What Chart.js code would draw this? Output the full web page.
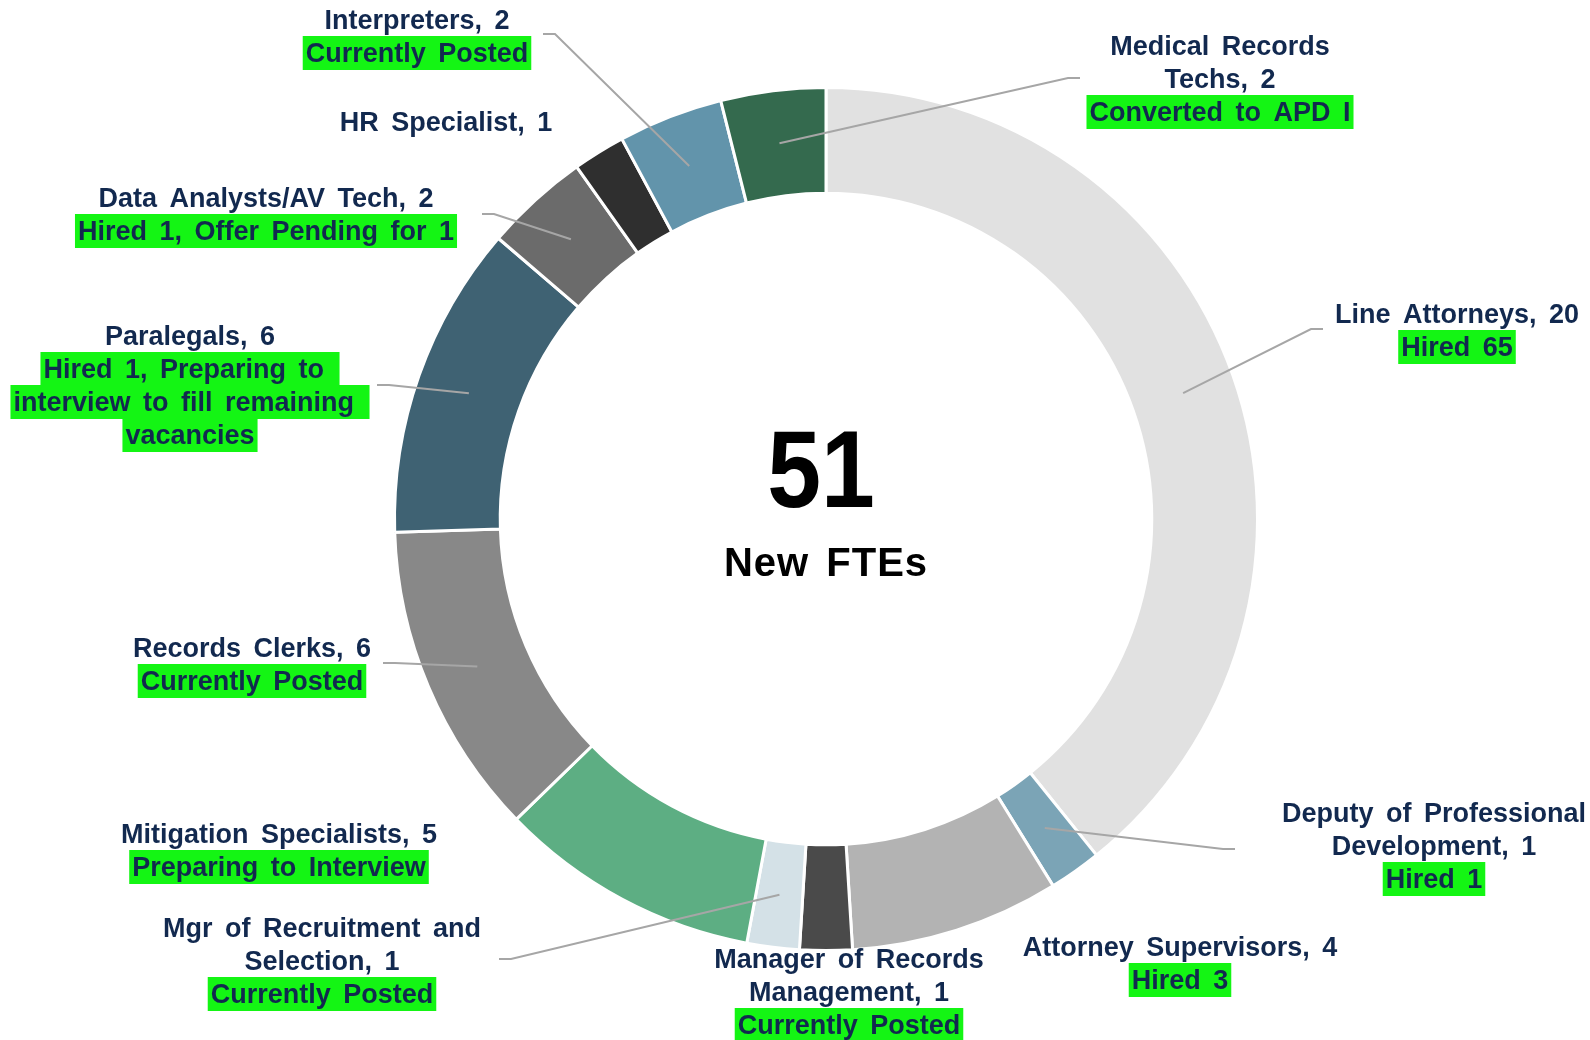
<!DOCTYPE html>
<html>
<head>
<meta charset="utf-8">
<title>New FTEs</title>
<script src="https://cdn.jsdelivr.net/npm/chart.js@4.4.1/dist/chart.umd.min.js"></script>
<style>
  body { margin: 0; background: #fff; }
  #myChart { display: block; }
</style>
</head>
<body>
<canvas id="myChart" width="1590" height="1040"></canvas>
<script>
// slices go clockwise from 12 o'clock
const roles = [
  ["Line Attorneys"],
  ["Deputy of Professional", "Development"],
  ["Attorney Supervisors"],
  ["Manager of Records", "Management"],
  ["Mgr of Recruitment and", "Selection"],
  ["Mitigation Specialists"],
  ["Records Clerks"],
  ["Paralegals"],
  ["Data Analysts/AV Tech"],
  ["HR Specialist"],
  ["Interpreters"],
  ["Medical Records", "Techs"],
];

const fteCounts = [20, 1, 4, 1, 1, 5, 6, 6, 2, 1, 2, 2];

const statusNotes = [
  ["Hired 65"],
  ["Hired 1"],
  ["Hired 3"],
  ["Currently Posted"],
  ["Currently Posted"],
  ["Preparing to Interview"],
  ["Currently Posted"],
  ["Hired 1, Preparing to ", "interview to fill remaining ", "vacancies"],
  ["Hired 1, Offer Pending for 1"],
  [],
  ["Currently Posted"],
  ["Converted to APD I"],
];

const sliceColors = [
  "#e1e1e1", "#7ba4b6", "#b3b3b3", "#4a4a4a", "#d4e1e7", "#5dae83",
  "#888888", "#3f6273", "#6b6b6b", "#2f2f2f", "#6294ab", "#346a4e",
];

// where each label sits (centre x, first baseline) and where its leader line ends
const labelLayout = [
  { x: 1457, y: 323, end: [1323, 329] },
  { x: 1434, y: 822, end: [1235, 849] },
  { x: 1180, y: 956 },
  { x: 849, y: 968 },
  { x: 322, y: 937, end: [499, 959] },
  { x: 279, y: 843 },
  { x: 252, y: 657, end: [383, 663] },
  { x: 190, y: 345, end: [377, 385] },
  { x: 266, y: 207, end: [482, 214] },
  { x: 446, y: 131 },
  { x: 417, y: 29, end: [543, 34] },
  { x: 1220, y: 55, end: [1080, 78] },
];

const textColor = "#12294f";
const highlight = "#14f514";
const lineHeight = 33;

const totalFte = fteCounts.reduce((a, b) => a + b, 0);

const labelPlugin = {
  id: "roleLabels",
  afterDraw(chart) {
    const ctx = chart.ctx;
    const meta = chart.getDatasetMeta(0);
    ctx.save();

    // leader lines
    ctx.strokeStyle = "#a6a6a6";
    ctx.lineWidth = 2;
    labelLayout.forEach((lay, i) => {
      if (!lay.end) return;
      const p = meta.data[i].getCenterPoint();
      const ex = lay.end[0];
      const ey = lay.end[1];
      const elbow = ex + Math.sign(p.x - ex) * 12;
      ctx.beginPath();
      ctx.moveTo(p.x, p.y);
      ctx.lineTo(elbow, ey);
      ctx.lineTo(ex, ey);
      ctx.stroke();
    });

    // role names, counts and status notes
    ctx.font = "bold 27px 'Liberation Sans', Arial, sans-serif";
    ctx.textAlign = "center";
    ctx.textBaseline = "alphabetic";
    ctx.letterSpacing = "0px";
    ctx.wordSpacing = "5px";
    roles.forEach((name, i) => {
      const lay = labelLayout[i];
      const lines = name.slice();
      lines[lines.length - 1] = lines[lines.length - 1] + ", " + fteCounts[i];
      let y = lay.y;
      lines.forEach((t) => {
        ctx.fillStyle = textColor;
        ctx.fillText(t, lay.x, y);
        y += lineHeight;
      });
      statusNotes[i].forEach((t) => {
        const w = ctx.measureText(t).width;
        ctx.fillStyle = highlight;
        ctx.fillRect(lay.x - w / 2 - 3, y - 26, w + 6, 34);
        ctx.fillStyle = textColor;
        ctx.fillText(t, lay.x, y);
        y += lineHeight;
      });
    });

    // total in the hole, a bit condensed
    const c = meta.data[0];
    ctx.fillStyle = "#000";
    ctx.save();
    ctx.translate(c.x - 5, 507);
    ctx.scale(0.88, 1);
    ctx.font = "bold 110px 'Liberation Sans', Arial, sans-serif";
    ctx.fillText(String(totalFte), 0, 0);
    ctx.restore();
    ctx.letterSpacing = "1px";
    ctx.font = "bold 40px 'Liberation Sans', Arial, sans-serif";
    ctx.fillText("New FTEs", c.x, 576);
    ctx.restore();
  },
};

const ctx = document.getElementById("myChart");

const myChart = new Chart(ctx, {
  type: "doughnut",
  data: {
    labels: roles.map((r) => r.join(" ")),
    datasets: [
      {
        data: fteCounts,
        backgroundColor: sliceColors,
        borderColor: "#ffffff",
        borderWidth: 3,
        hoverOffset: 0,
      },
    ],
  },
  options: {
    responsive: false,
    animation: false,
    cutout: "75.5%",
    plugins: {
      legend: false,
      tooltip: false,
    },
    layout: {
      padding: { left: 393, right: 331, top: 86, bottom: 88 },
    },
  },
  plugins: [labelPlugin],
});
</script>
</body>
</html>
